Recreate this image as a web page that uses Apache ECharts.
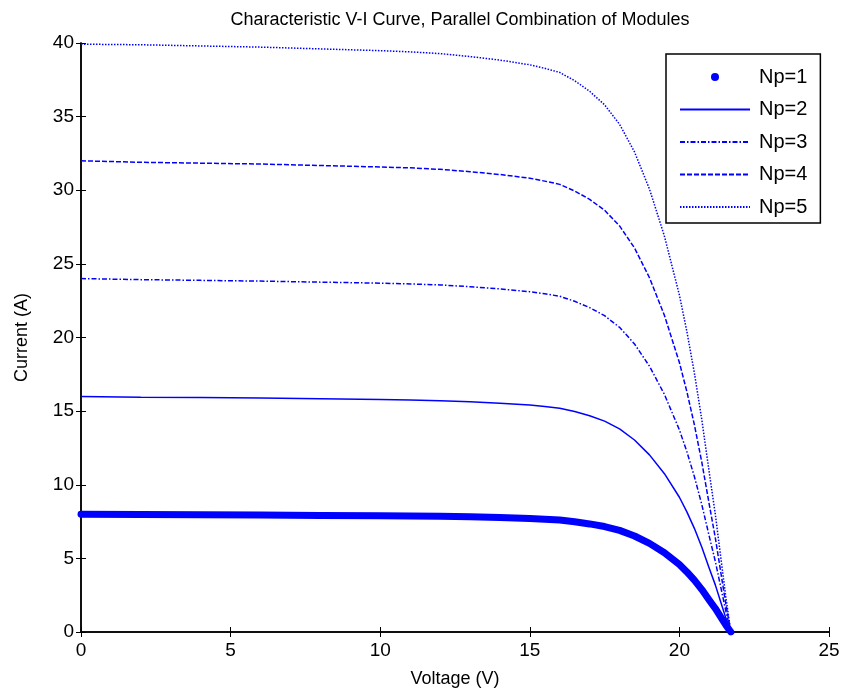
<!DOCTYPE html>
<html>
<head>
<meta charset="utf-8">
<script src="https://cdn.jsdelivr.net/npm/echarts@6/dist/echarts.min.js"></script>
<style>
  html, body { margin: 0; padding: 0; background: #fff; }
  #chart { width: 843px; height: 700px; }
</style>
</head>
<body>
<div id="chart"></div>
<script>
// voltage samples (V)
var voltage = [0, 2, 4, 6, 8, 10, 11, 12, 13, 14, 15, 15.5, 16, 16.5, 17, 17.5, 18, 18.5, 19, 19.5, 20, 20.25, 20.5, 20.75, 21, 21.2, 21.4, 21.55, 21.72];

// current (A)
var np1 = [8.00, 7.98, 7.96, 7.94, 7.92, 7.90, 7.88, 7.86, 7.82, 7.77, 7.70, 7.66, 7.60, 7.49, 7.34, 7.16, 6.90, 6.52, 6.02, 5.38, 4.58, 4.08, 3.52, 2.88, 2.16, 1.60, 0.96, 0.48, 0.00];
var np2 = [16.00, 15.95, 15.92, 15.89, 15.84, 15.79, 15.76, 15.71, 15.63, 15.54, 15.41, 15.31, 15.20, 14.98, 14.69, 14.32, 13.79, 13.04, 12.03, 10.75, 9.15, 8.16, 7.04, 5.76, 4.32, 3.20, 1.92, 0.96, 0.00];
var np3 = [24.00, 23.93, 23.88, 23.83, 23.76, 23.69, 23.64, 23.57, 23.45, 23.30, 23.11, 22.97, 22.80, 22.46, 22.03, 21.48, 20.69, 19.56, 18.05, 16.13, 13.73, 12.24, 10.56, 8.64, 6.48, 4.80, 2.88, 1.44, 0.00];
var np4 = [32.00, 31.90, 31.84, 31.78, 31.68, 31.58, 31.52, 31.42, 31.26, 31.07, 30.82, 30.62, 30.40, 29.95, 29.38, 28.64, 27.58, 26.08, 24.06, 21.50, 18.30, 16.32, 14.08, 11.52, 8.64, 6.40, 3.84, 1.92, 0.00];
var np5 = [39.92, 39.88, 39.80, 39.72, 39.60, 39.48, 39.40, 39.28, 39.08, 38.84, 38.52, 38.28, 38.00, 37.44, 36.72, 35.80, 34.48, 32.60, 30.08, 26.88, 22.88, 20.40, 17.60, 14.40, 10.80, 8.00, 4.80, 2.40, 0.00];

var seriesNames = ['Np=1', 'Np=2', 'Np=3', 'Np=4', 'Np=5'];

function pairs(ys) {
    return voltage.map(function (v, i) { return [v, ys[i]]; });
}

var FONT = '"Liberation Sans", Arial, sans-serif';
var BLUE = '#0000ff';

var myChart = echarts.init(document.getElementById('chart'));

// matlab style box: ticks inside on all four sides
var axisCommon = {
    axisLine: { show: true, lineStyle: { color: '#000', width: 1.5 } },
    axisTick: { show: true, inside: true, length: 5, lineStyle: { color: '#000', width: 1 } },
    splitLine: { show: false }
};

myChart.setOption({
    animation: false,
    backgroundColor: '#fff',
    title: {
        text: 'Characteristic V-I Curve, Parallel Combination of Modules',
        left: 455,
        textAlign: 'center',
        top: 6,
        textStyle: { fontFamily: FONT, fontSize: 18, fontWeight: 'normal', color: '#000' }
    },
    grid: { left: 81, right: 14, top: 43, bottom: 68 },
    legend: {
        orient: 'vertical',
        left: 666,
        top: 54,
        padding: [13, 13, 6, 13],
        itemWidth: 70,
        itemHeight: 8,
        itemGap: 12.5,
        backgroundColor: '#fff',
        borderColor: '#000',
        borderWidth: 1.5,
        // hide the marker that line icons get by default, keep it only for Np=1
        itemStyle: { opacity: 0 },
        textStyle: { fontFamily: FONT, fontSize: 20, color: '#000', padding: [0, 0, 0, 4] },
        data: [
            { name: 'Np=1', icon: 'circle', itemStyle: { opacity: 1, color: BLUE } },
            'Np=2', 'Np=3', 'Np=4', 'Np=5'
        ]
    },
    xAxis: [
        Object.assign({
            type: 'value', min: 0, max: 25, interval: 5,
            name: 'Voltage (V)', nameLocation: 'middle', nameGap: 38,
            nameTextStyle: { fontFamily: FONT, fontSize: 18, color: '#000' },
            axisLabel: { fontFamily: FONT, fontSize: 19, color: '#000', margin: 9 }
        }, axisCommon),
        Object.assign({
            type: 'value', min: 0, max: 25, interval: 5, position: 'top',
            axisLabel: { show: false }
        }, axisCommon)
    ],
    yAxis: [
        Object.assign({
            type: 'value', min: 0, max: 40, interval: 5,
            name: 'Current (A)', nameLocation: 'middle', nameGap: 50,
            nameTextStyle: { fontFamily: FONT, fontSize: 18, color: '#000' },
            axisLabel: { fontFamily: FONT, fontSize: 19, color: '#000', margin: 7 }
        }, axisCommon),
        Object.assign({
            type: 'value', min: 0, max: 40, interval: 5, position: 'right',
            axisLabel: { show: false }
        }, axisCommon)
    ],
    series: [
        {
            name: seriesNames[0], type: 'line', showSymbol: false, symbol: 'circle', symbolSize: 8,
            itemStyle: { color: BLUE },
            lineStyle: { color: BLUE, width: 7, cap: 'round', join: 'round' },
            data: pairs(np1)
        },
        {
            name: seriesNames[1], type: 'line', showSymbol: false, symbol: 'none',
            itemStyle: { color: BLUE },
            lineStyle: { color: BLUE, width: 1.5, type: 'solid' },
            data: pairs(np2)
        },
        {
            name: seriesNames[2], type: 'line', showSymbol: false, symbol: 'none',
            itemStyle: { color: BLUE },
            lineStyle: { color: BLUE, width: 1.5, type: [5, 2, 1.5, 2] },
            data: pairs(np3)
        },
        {
            name: seriesNames[3], type: 'line', showSymbol: false, symbol: 'none',
            itemStyle: { color: BLUE },
            lineStyle: { color: BLUE, width: 1.5, type: [5, 2] },
            data: pairs(np4)
        },
        {
            name: seriesNames[4], type: 'line', showSymbol: false, symbol: 'none',
            itemStyle: { color: BLUE },
            lineStyle: { color: BLUE, width: 1.5, type: [1.5, 1.5] },
            data: pairs(np5)
        }
    ]
});
</script>
</body>
</html>
